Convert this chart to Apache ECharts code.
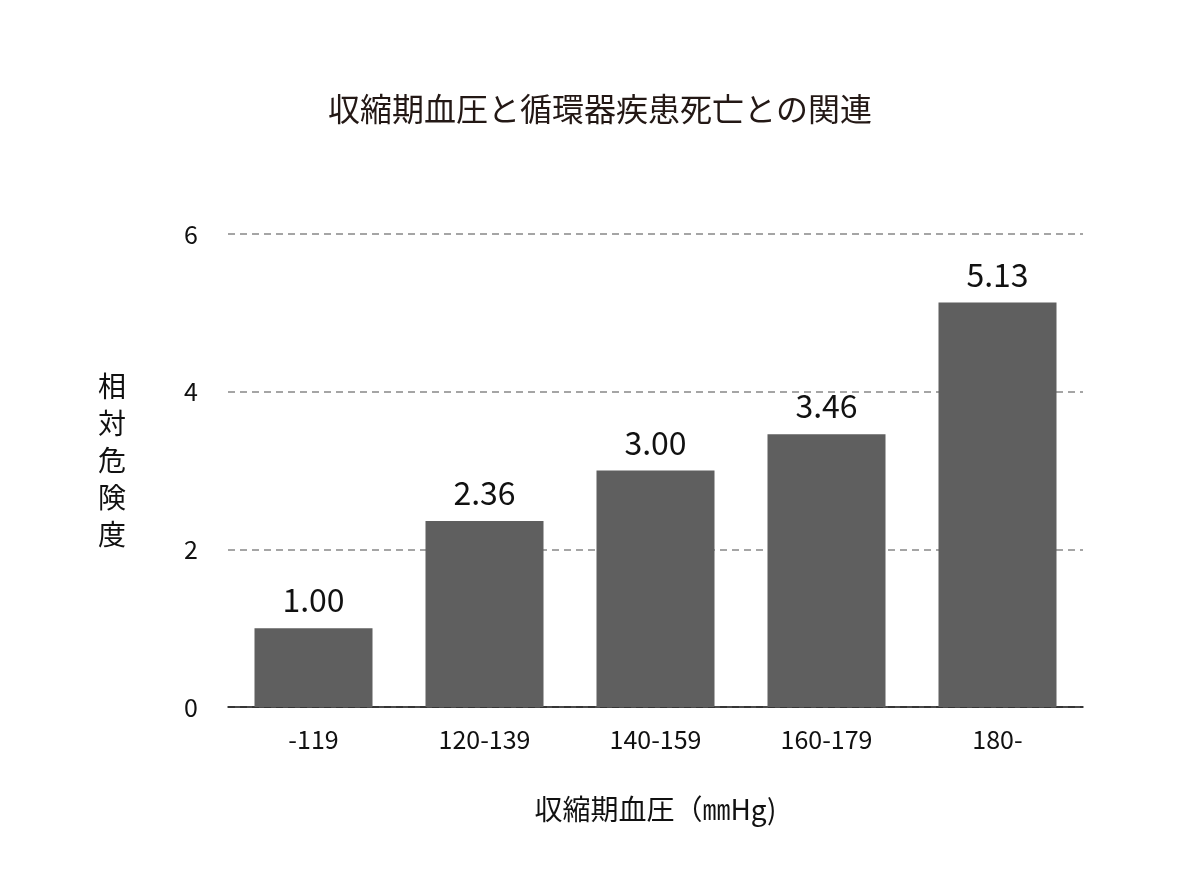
<!DOCTYPE html>
<html><head><meta charset="utf-8">
<script src="https://cdn.jsdelivr.net/npm/echarts@6/dist/echarts.min.js"></script>
<style>html,body{margin:0;background:#fff}#c{width:1200px;height:890px}</style>
</head><body><div id="c"></div>
<script>
const categories = ['-119','120-139','140-159','160-179','180-'];
const values = [1.00, 2.36, 3.00, 3.46, 5.13];
const yTicks = [0,2,4,6];
const F = '"Noto Sans CJK JP", "Noto Sans", sans-serif';
const chart = echarts.init(document.getElementById('c'));
chart.setOption({
  backgroundColor:'#fff',
  title:{text:'収縮期血圧と循環器疾患死亡との関連',left:'center',top:88,
    textStyle:{fontFamily:F,fontSize:32,fontWeight:'normal',color:'#231815'}},
  grid:{left:228,right:117,top:234,bottom:183},
  xAxis:{type:'category',data:categories,
    axisLine:{lineStyle:{color:'#111',width:1.5}},axisTick:{show:false},
    axisLabel:{fontFamily:F,fontSize:25,color:'#111',margin:20},
    name:'収縮期血圧（㎜Hg)',nameLocation:'middle',nameGap:88,
    nameTextStyle:{fontFamily:F,fontSize:28,color:'#111'}},
  yAxis:{type:'value',min:0,max:6,interval:2,
    axisLine:{show:false},axisTick:{show:false},
    axisLabel:{fontFamily:F,fontSize:25,color:'#111',margin:30},
    splitLine:{lineStyle:{type:[7,5],color:'#888',width:1.5}}},
  graphic:[{type:'text',left:98,top:368,style:{text:'相\n対\n危\n険\n度',fontFamily:F,fontSize:28,lineHeight:37,fill:'#111'}}],
  series:[{type:'bar',data:values,barWidth:118,itemStyle:{color:'#5f5f5f'},
    label:{show:true,position:'top',distance:12,formatter:p=>p.value.toFixed(2),
      fontFamily:F,fontSize:32,color:'#111'}}]
});
</script></body></html>
